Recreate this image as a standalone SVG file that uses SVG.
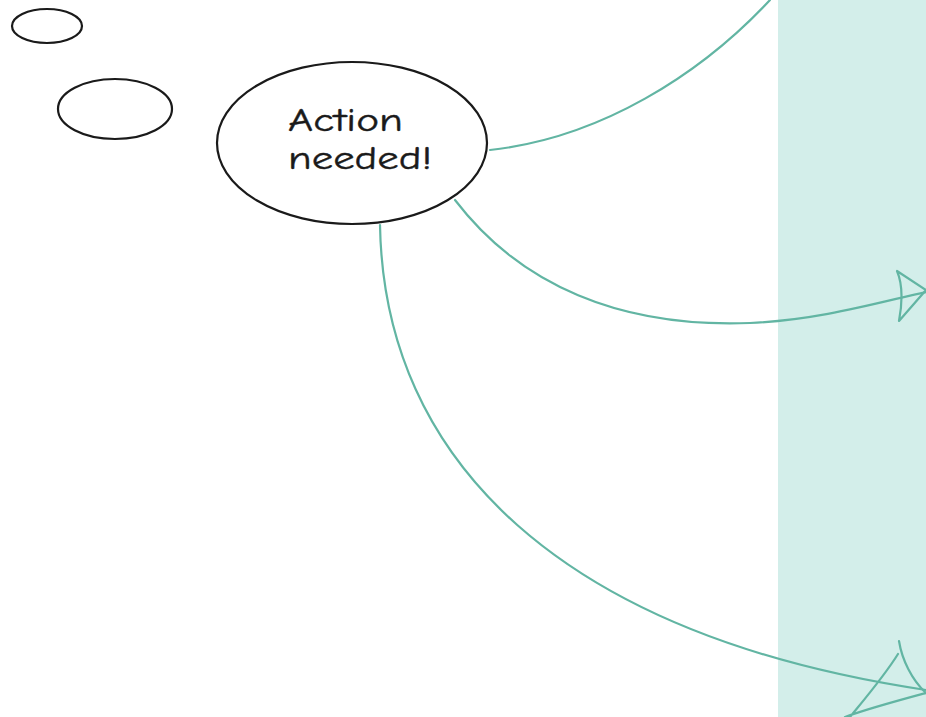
<svg xmlns="http://www.w3.org/2000/svg" width="926" height="717" viewBox="0 0 926 717">
<style>
.bubble{fill:#fff;stroke:#1a1a1a;stroke-width:2.2}
.conn{fill:none;stroke:#62b5a3;stroke-width:2.2;stroke-linecap:round;stroke-linejoin:round}
.lbl{font-family:"Comic Neue","DejaVu Sans",sans-serif;font-size:32px;fill:#1a1a1a;stroke:#1a1a1a;stroke-width:0.4}
</style>
<rect x="0" y="0" width="926" height="717" fill="#fff"/>
<rect id="panel" x="778" y="0" width="148" height="717" fill="#d3eeea"/>
<g id="connectors">
<path class="conn" d="M490,150 C600,138 700,75 770,0"/>
<path class="conn" d="M455,200 C520,285 620,328 750,323 C820,320 880,302 926,292"/>
<path class="conn" d="M897,271 C903,285 902,305 899,321 L926,290 Z"/>
<path class="conn" d="M380,225 C384,460 560,635 926,690"/>
<path class="conn" d="M899,641 C902,660 912,680 926,693 C900,700 870,708 845,717 M898,654 C885,675 868,695 850,717"/>
</g>
<g id="bubble-small"><ellipse class="bubble" cx="47" cy="26" rx="35" ry="17"/></g>
<g id="bubble-medium"><ellipse class="bubble" cx="115" cy="109" rx="57" ry="30"/></g>
<g id="action-needed">
<ellipse class="bubble" cx="352" cy="143" rx="135" ry="81"/>
<text class="lbl" x="288" y="131" textLength="115" lengthAdjust="spacingAndGlyphs">Action</text>
<text class="lbl" x="288" y="169" textLength="144" lengthAdjust="spacingAndGlyphs">needed!</text>
</g>
</svg>
